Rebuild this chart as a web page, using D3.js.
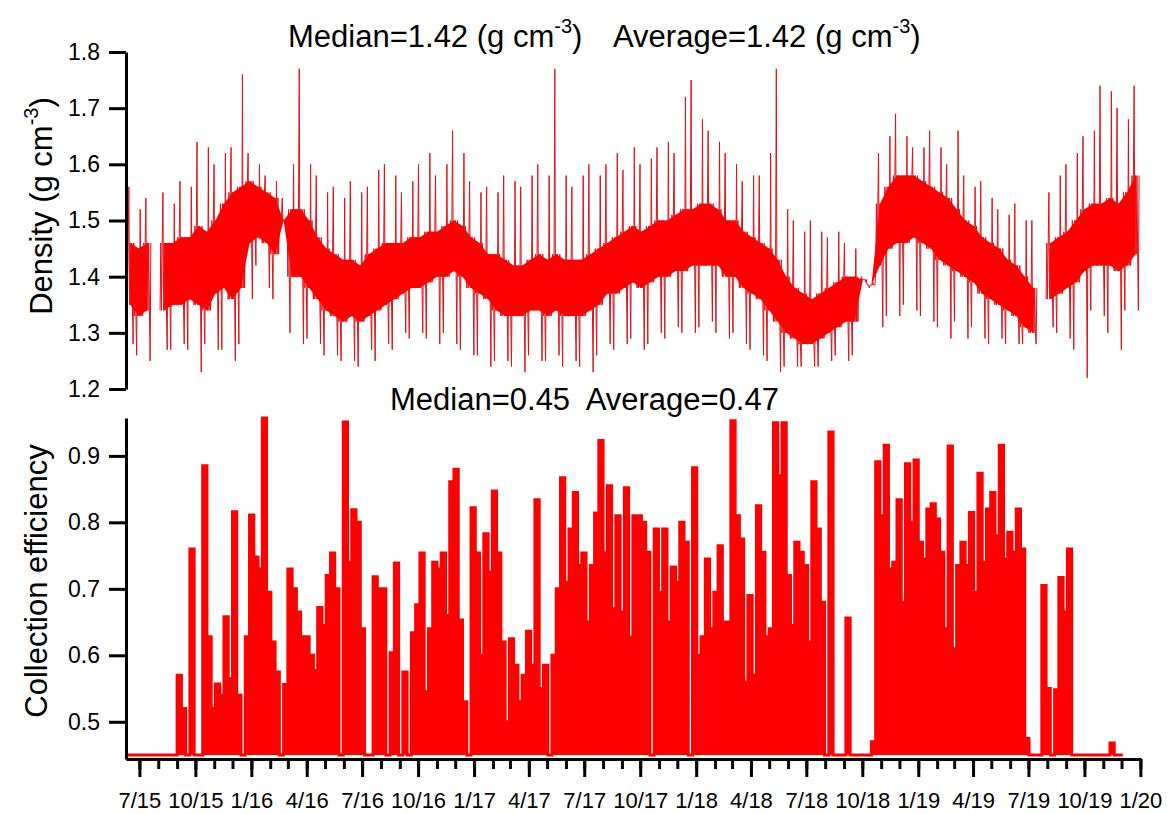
<!DOCTYPE html>
<html>
<head>
<meta charset="utf-8">
<script src="https://cdn.jsdelivr.net/npm/d3@7"></script>
<style>
  body { margin: 0; background: #fff; }
  text { font-family: "Liberation Sans", Arial, sans-serif; fill: #000; }
</style>
</head>
<body>
<svg id="chart" width="1172" height="814"></svg>
<script>
// time frame: both series start on the same day, density in 2-week bins, efficiency weekly
const START = "2015-06-09";
const END = "2020-01-02";

const quarterTicks = ["2015-07-01","2015-10-01","2016-01-01","2016-04-01","2016-07-01","2016-10-01",
  "2017-01-01","2017-04-01","2017-07-01","2017-10-01","2018-01-01","2018-04-01","2018-07-01",
  "2018-10-01","2019-01-01","2019-04-01","2019-07-01","2019-10-01","2020-01-01"];
const quarterLabels = ["7/15","10/15","1/16","4/16","7/16","10/16","1/17","4/17","7/17","10/17",
  "1/18","4/18","7/18","10/18","1/19","4/19","7/19","10/19","1/20"];
const densTicks = [1.2, 1.3, 1.4, 1.5, 1.6, 1.7, 1.8];
const effTicks = [0.5, 0.6, 0.7, 0.8, 0.9];

// density, 2-week bins: bulk of the trace (lo/hi) and the spike extremes (min/max)
const densLo = [1.35,1.33,1.34,null,1.34,1.35,1.35,1.36,1.35,1.34,
  1.37,1.38,1.36,1.38,1.46,1.47,1.46,1.44,1.50,1.40,
  1.40,1.38,1.36,1.34,1.33,1.32,1.33,1.32,1.33,1.34,
  1.35,1.36,1.37,1.38,1.38,1.39,1.40,1.40,1.41,1.40,
  1.38,1.37,1.36,1.34,1.33,1.33,1.33,1.34,1.34,1.33,
  1.34,1.33,1.33,1.33,1.34,1.35,1.37,1.37,1.38,1.39,
  1.38,1.39,1.40,1.40,1.41,1.41,1.42,1.42,1.42,1.42,
  1.40,1.40,1.38,1.37,1.36,1.34,1.32,1.30,1.29,1.28,
  1.28,1.29,1.30,1.31,1.32,1.32,1.395,1.385,1.42,1.45,
  1.46,1.46,1.47,1.46,1.45,1.43,1.42,1.41,1.40,1.39,
  1.37,1.36,1.35,1.34,1.33,1.31,1.30,null,1.36,1.37,
  1.38,1.39,1.41,1.42,1.42,1.42,1.41,1.42,1.44];
const densHi = [1.46,1.45,1.46,null,1.46,1.46,1.47,1.47,1.49,1.48,
  1.50,1.53,1.55,1.56,1.57,1.56,1.55,1.54,1.50,1.52,
  1.52,1.50,1.47,1.45,1.44,1.43,1.43,1.42,1.44,1.45,
  1.46,1.46,1.46,1.47,1.47,1.48,1.48,1.49,1.50,1.49,
  1.47,1.46,1.44,1.44,1.43,1.42,1.42,1.43,1.44,1.43,
  1.44,1.43,1.43,1.43,1.44,1.45,1.46,1.47,1.48,1.49,
  1.48,1.49,1.50,1.50,1.51,1.52,1.52,1.53,1.53,1.52,
  1.50,1.50,1.48,1.47,1.46,1.45,1.43,1.40,1.38,1.37,
  1.36,1.37,1.38,1.39,1.40,1.40,1.395,1.385,1.53,1.56,
  1.58,1.58,1.58,1.57,1.56,1.55,1.54,1.52,1.50,1.49,
  1.47,1.46,1.45,1.43,1.42,1.40,1.38,null,1.46,1.47,
  1.48,1.50,1.52,1.53,1.53,1.54,1.53,1.55,1.58];
const densMin = [1.28,1.26,1.25,null,1.27,1.27,1.28,1.27,1.23,1.28,
  1.27,1.27,1.25,1.28,1.36,1.42,1.38,1.36,1.47,1.30,
  1.28,1.29,1.28,1.26,1.26,1.25,1.25,1.24,1.27,1.25,
  1.28,1.27,1.30,1.29,1.30,1.29,1.28,1.30,1.28,1.27,
  1.26,1.26,1.24,1.25,1.25,1.24,1.23,1.26,1.25,1.25,
  1.26,1.24,1.25,1.24,1.23,1.26,1.28,1.27,1.28,1.29,
  1.27,1.28,1.30,1.29,1.31,1.30,1.30,1.31,1.32,1.30,
  1.29,1.30,1.28,1.27,1.26,1.25,1.23,1.24,1.24,1.24,
  1.24,1.24,1.25,1.26,1.25,1.26,1.39,1.38,1.31,1.33,
  1.33,1.35,1.34,1.33,1.32,1.31,1.29,1.32,1.29,1.31,
  1.29,1.28,1.29,1.28,1.28,1.28,1.28,null,1.31,1.30,
  1.29,1.27,1.22,1.34,1.33,1.30,1.27,1.34,1.34];
const densMax = [1.56,1.52,1.54,null,1.55,1.53,1.57,1.56,1.64,1.63,
  1.60,1.62,1.63,1.76,1.62,1.60,1.58,1.57,1.54,1.60,
  1.77,1.60,1.58,1.55,1.56,1.54,1.57,1.55,1.56,1.59,
  1.60,1.58,1.55,1.57,1.60,1.62,1.58,1.60,1.66,1.62,
  1.57,1.55,1.56,1.55,1.58,1.57,1.56,1.58,1.60,1.58,
  1.77,1.58,1.56,1.58,1.60,1.58,1.60,1.62,1.59,1.63,
  1.60,1.61,1.63,1.64,1.62,1.72,1.75,1.68,1.66,1.64,
  1.62,1.60,1.57,1.58,1.58,1.62,1.77,1.52,1.50,1.48,
  1.50,1.48,1.47,1.48,1.46,1.45,1.40,1.39,1.62,1.65,
  1.69,1.65,1.63,1.63,1.66,1.63,1.60,1.66,1.58,1.56,
  1.57,1.54,1.52,1.51,1.53,1.50,1.50,null,1.55,1.58,
  1.60,1.62,1.65,1.66,1.74,1.73,1.70,1.68,1.74];

// collection efficiency, weekly (0.45 = baseline, no collection)
const EFF_BASE = 0.45;
const effValues = [0.45,0.45,0.45,0.45,0.45,0.45,0.45,0.45,0.45,0.45,
  0.45,0.45,0.57,0.52,0.45,0.76,0.45,0.45,0.885,0.628,
  0.52,0.557,0.54,0.658,0.565,0.816,0.54,0.45,0.628,0.811,
  0.748,0.73,0.957,0.695,0.62,0.575,0.45,0.556,0.73,0.70,
  0.665,0.628,0.628,0.60,0.577,0.672,0.645,0.72,0.754,0.70,
  0.45,0.951,0.74,0.819,0.80,0.64,0.45,0.45,0.718,0.70,
  0.70,0.45,0.604,0.739,0.45,0.575,0.45,0.634,0.676,0.754,
  0.545,0.64,0.74,0.73,0.754,0.66,0.861,0.88,0.653,0.53,
  0.45,0.822,0.754,0.60,0.783,0.725,0.847,0.754,0.62,0.50,
  0.625,0.585,0.53,0.57,0.636,0.585,0.834,0.55,0.585,0.45,
  0.60,0.70,0.867,0.71,0.79,0.845,0.735,0.754,0.65,0.735,
  0.814,0.923,0.754,0.855,0.67,0.81,0.665,0.852,0.627,0.81,
  0.81,0.80,0.755,0.45,0.79,0.695,0.79,0.65,0.733,0.71,
  0.80,0.77,0.45,0.882,0.60,0.628,0.745,0.64,0.695,0.765,
  0.65,0.65,0.953,0.81,0.775,0.56,0.69,0.57,0.825,0.755,
  0.628,0.64,0.95,0.87,0.95,0.72,0.645,0.77,0.755,0.735,
  0.62,0.861,0.79,0.68,0.45,0.936,0.45,0.45,0.45,0.656,
  0.45,0.45,0.45,0.45,0.45,0.47,0.891,0.81,0.916,0.73,
  0.74,0.834,0.68,0.888,0.80,0.894,0.77,0.745,0.82,0.828,
  0.805,0.755,0.64,0.915,0.61,0.735,0.77,0.735,0.815,0.695,
  0.874,0.74,0.82,0.845,0.78,0.916,0.745,0.785,0.755,0.82,
  0.76,0.475,0.45,0.45,0.45,0.705,0.55,0.45,0.548,0.717,
  0.665,0.76,0.45,0.45,0.45,0.45,0.45,0.45,0.45,0.45,
  0.45,0.468,0.45,0.45];

const DAY = 864e5;
const parse = d3.utcParse("%Y-%m-%d");
const t0 = parse(START);
const svg = d3.select("#chart");

const x = d3.scaleUtc().domain([t0, parse(END)]).range([126, 1141]);
const yD = d3.scaleLinear().domain([1.2, 1.8]).range([389, 52]);
const yE = d3.scaleLinear().domain([0.444, 0.957]).range([759, 418]);

// ---- density panel ----
// thin trace: zigzag over the bulk with one excursion to the max and one to the min per bin
const densPts = [];
densLo.forEach((lo, k) => {
  const tb = +t0 + k * 14 * DAY;
  if (lo == null) { densPts.push({ t: new Date(tb), v: null }); return; }
  const hi = densHi[k];
  const seq = k % 2
    ? [lo, hi, lo, densMin[k], hi, lo, hi, lo, densMax[k], lo, hi, lo]
    : [lo, hi, lo, hi, densMax[k], lo, hi, lo, hi, lo, densMin[k], hi];
  seq.forEach((v, j) => densPts.push({ t: new Date(tb + j * 14 / seq.length * DAY), v }));
});
svg.append("path")
  .datum(densPts)
  .attr("fill", "none")
  .attr("stroke", "#dc1219")
  .attr("stroke-width", 1)
  .attr("d", d3.line().defined(d => d.v != null).x(d => x(d.t)).y(d => yD(d.v)));

// solid bulk of the trace on top, drawn through the bin centres
const bulk = densLo.map((lo, k) => ({ t: new Date(+t0 + (k + 0.5) * 14 * DAY), lo, hi: densHi[k] }));
svg.append("path")
  .datum(bulk)
  .attr("fill", "#ff0000")
  .attr("d", d3.area().defined(d => d.lo != null)
    .x(d => x(d.t)).y0(d => yD(d.lo)).y1(d => yD(d.hi)));

// ---- efficiency panel ----
const effPts = effValues.map((v, i) => ({ t: new Date(+t0 + i * 7 * DAY), v }));
effPts.push({ t: new Date(+t0 + effValues.length * 7 * DAY), v: effValues[effValues.length - 1] });
svg.append("path")
  .datum(effPts)
  .attr("fill", "#ff0000")
  .attr("d", d3.area().curve(d3.curveStepAfter)
    .x(d => x(d.t)).y0(yE(EFF_BASE)).y1(d => yE(d.v)));
svg.append("path")
  .datum(effPts)
  .attr("fill", "none")
  .attr("stroke", "#ff0000")
  .attr("stroke-width", 3)
  .attr("d", d3.line().curve(d3.curveStepAfter).x(d => x(d.t)).y(d => yE(d.v)));

// ---- axes ----
function styleAxis(g) {
  g.select(".domain").attr("stroke", "#000").attr("stroke-width", 3);
  g.selectAll(".tick line").attr("stroke", "#000").attr("stroke-width", 3);
  g.selectAll("text").attr("font-family", '"Liberation Sans", Arial, sans-serif').attr("fill", "#000");
}

svg.append("g")
  .attr("transform", "translate(126,0)")
  .call(d3.axisLeft(yD).tickValues(densTicks).tickFormat(d3.format(".1f")).tickSize(17).tickSizeOuter(0).tickPadding(9))
  .call(styleAxis)
  .selectAll("text").attr("font-size", 23);

svg.append("g")
  .attr("transform", "translate(126,0)")
  .call(d3.axisLeft(yE).tickValues(effTicks).tickFormat(d3.format(".1f")).tickSize(17).tickSizeOuter(0).tickPadding(9))
  .call(styleAxis)
  .selectAll("text").attr("font-size", 23);

const months = d3.utcMonth.range(parse("2015-07-01"), parse("2020-01-02"));
svg.append("g")
  .attr("transform", "translate(0,759)")
  .call(d3.axisBottom(x).tickValues(months).tickFormat("").tickSize(10).tickSizeOuter(0))
  .call(styleAxis);

const qDates = quarterTicks.map(parse);
svg.append("g")
  .attr("transform", "translate(0,759)")
  .call(d3.axisBottom(x).tickValues(qDates).tickFormat((d, i) => quarterLabels[i]).tickSize(18).tickSizeOuter(0))
  .call(styleAxis)
  .call(g => g.select(".domain").remove())
  .selectAll("text").attr("font-size", 22).attr("y", 49).attr("dy", 0);

// ---- titles ----
const t1 = svg.append("text").attr("x", 288).attr("y", 47).attr("font-size", 31).style("white-space", "pre");
t1.append("tspan").text("Median=1.42 (g cm");
t1.append("tspan").attr("dy", -14).attr("font-size", 20).text("-3");
t1.append("tspan").attr("dy", 14).text(")");
t1.append("tspan").attr("x", 613).text("Average=1.42 (g cm");
t1.append("tspan").attr("dy", -14).attr("font-size", 20).text("-3");
t1.append("tspan").attr("dy", 14).text(")");

svg.append("text").attr("x", 390).attr("y", 410).attr("font-size", 31)
  .style("white-space", "pre").text("Median=0.45  Average=0.47");

const yt1 = svg.append("text").attr("transform", "translate(52,206) rotate(-90)")
  .attr("text-anchor", "middle").attr("font-size", 31);
yt1.append("tspan").text("Density (g cm");
yt1.append("tspan").attr("dy", -14).attr("font-size", 20).text("-3");
yt1.append("tspan").attr("dy", 14).text(")");

svg.append("text").attr("transform", "translate(47,581) rotate(-90)")
  .attr("text-anchor", "middle").attr("font-size", 31).text("Collection efficiency");
</script>
</body>
</html>
